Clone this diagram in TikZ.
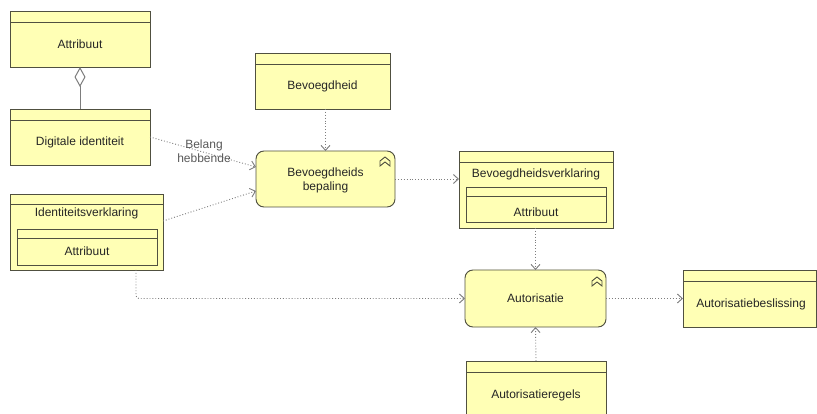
\documentclass[tikz,border=0pt]{standalone}
\usepackage{fontspec}
\setmainfont{Liberation Sans}
\usetikzlibrary{arrows.meta,calc}
\definecolor{objfill}{RGB}{255,255,181}
\definecolor{objline}{RGB}{80,80,64}
\definecolor{conn}{RGB}{125,125,125}
\tikzset{
  obj/.style={draw=objline, fill=objfill, line width=0.95pt, rectangle, anchor=north west, inner sep=0pt, outer sep=0pt},
  proc/.style={obj, rounded corners=8pt},
  hdr/.style={draw=objline, line width=0.95pt},
  lbl/.style={font=\fontsize{12}{14}\selectfont, text=black!85, inner sep=0pt, align=center},
  flow/.style={draw=conn, line width=0.9pt, dotted, -{Straight Barb[length=5pt,width=9pt]}},
  agg/.style={draw=conn, line width=1pt, {Diamond[open,length=20pt,width=11pt,fill=white]}-},
  icon/.style={draw=objline, line width=0.9pt}
}
\newcommand{\fnicon}[2]{\draw[icon] (#1-5,#2+5) -- (#1-5,#2) -- (#1,#2-4) -- (#1+5,#2) -- (#1+5,#2+5) -- (#1,#2+1) -- cycle;}
\begin{document}
\begin{tikzpicture}[x=1pt,y=-1pt]
\useasboundingbox (0,0) rectangle (817,414);
\clip (0,0) rectangle (817,414);
\fill[white] (0,0) rectangle (817,414);
% objects
\node[obj, minimum width=140pt, minimum height=56pt] (attr) at (10,11) {};
\draw[hdr] ([yshift=-11pt]attr.north west) -- ([yshift=-11pt]attr.north east);
\node[lbl] (attrT) at (80,44.5) {Attribuut};

\node[obj, minimum width=140pt, minimum height=56pt] (digid) at (10,109) {};
\draw[hdr] ([yshift=-11pt]digid.north west) -- ([yshift=-11pt]digid.north east);
\node[lbl] (digidT) at (80,142.5) {Digitale identiteit};

\node[obj, minimum width=153pt, minimum height=76pt] (idv) at (10,194) {};
\draw[hdr] ([yshift=-10pt]idv.north west) -- ([yshift=-10pt]idv.north east);
\node[lbl] (idvT) at (86.5,213) {Identiteitsverklaring};
\node[obj, minimum width=140pt, minimum height=36pt] (idvA) at (17,229) {};
\draw[hdr] ([yshift=-9pt]idvA.north west) -- ([yshift=-9pt]idvA.north east);
\node[lbl] (idvAT) at (87,251) {Attribuut};

\node[obj, minimum width=135pt, minimum height=56pt] (bev) at (255,53) {};
\draw[hdr] ([yshift=-11pt]bev.north west) -- ([yshift=-11pt]bev.north east);
\node[lbl] (bevT) at (322.5,86) {Bevoegdheid};

\node[proc, minimum width=139pt, minimum height=56pt] (bep) at (256,151) {};
\node[lbl] (bepT) at (325.5,180) {Bevoegdheids\\bepaling};
\fnicon{385}{161}

\node[obj, minimum width=154pt, minimum height=77pt] (bvk) at (459,151) {};
\draw[hdr] ([yshift=-11pt]bvk.north west) -- ([yshift=-11pt]bvk.north east);
\node[lbl] (bvkT) at (536,174) {Bevoegdheidsverklaring};
\node[obj, minimum width=140pt, minimum height=35pt] (bvkA) at (466,187) {};
\draw[hdr] ([yshift=-9pt]bvkA.north west) -- ([yshift=-9pt]bvkA.north east);
\node[lbl] (bvkAT) at (536,212) {Attribuut};

\node[proc, minimum width=141pt, minimum height=57pt] (aut) at (465,270) {};
\node[lbl] (autT) at (535.5,298.5) {Autorisatie};
\fnicon{597}{281}

\node[obj, minimum width=133pt, minimum height=57pt] (abs) at (683,270) {};
\draw[hdr] ([yshift=-11pt]abs.north west) -- ([yshift=-11pt]abs.north east);
\node[lbl] (absT) at (751,304) {Autorisatiebeslissing};

\node[obj, minimum width=140pt, minimum height=60pt] (areg) at (466,361) {};
\draw[hdr] ([yshift=-11pt]areg.north west) -- ([yshift=-11pt]areg.north east);
\node[lbl] (aregT) at (536,395) {Autorisatieregels};

% connectors
\draw[agg] (attr.south) -- (digid.north);
\draw[flow] (digid.east) -- ([yshift=12pt]bep.west);
\node[lbl, text=black!65] (belang) at (204,151) {Belang\\hebbende};
\draw[flow] ([yshift=11pt]idv.east) -- ([yshift=-12pt]bep.west);
\draw[flow] (bev.south -| bep.north) -- (bep.north);
\draw[flow] (bep.east) -- (bep.east -| bvk.west);
\draw[flow] (bvk.south -| aut.north) -- (aut.north);
\draw[flow, rounded corners=3pt] ([xshift=49.5pt]idv.south) |- (aut.west);
\draw[flow] (aut.east) -- (aut.east -| abs.west);
\draw[flow] (areg.north) -- (aut.south);
\end{tikzpicture}
\end{document}
